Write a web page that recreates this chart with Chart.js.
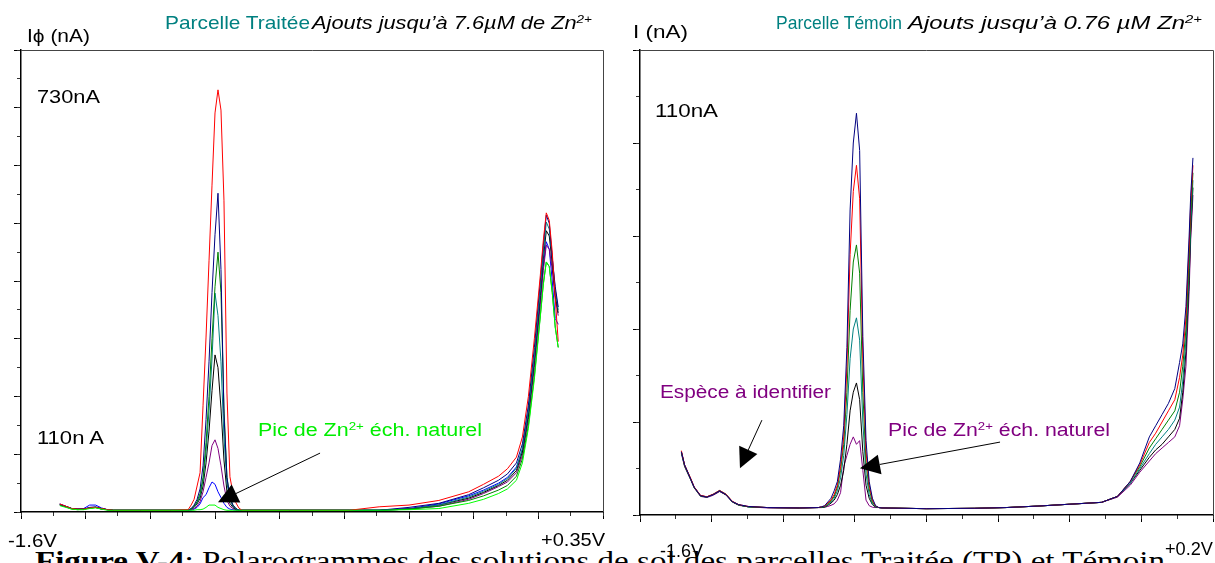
<!DOCTYPE html>
<html>
<head>
<meta charset="utf-8">
<title>Polarogrammes parcelles Traitée et Témoin</title>
<script src="https://cdn.jsdelivr.net/npm/chart.js@4"></script>
<style>
  body { margin:0; width:1215px; height:563px; position:relative; overflow:hidden; background:#fff;
         font-family:"Liberation Sans", Arial, sans-serif; }
  canvas { position:absolute; top:0; }
  #left { left:0; }
  #right { left:612px; }
  .t { position:absolute; white-space:nowrap; line-height:1; transform-origin:0 50%; color:#000; }
  .t sup { font-size:0.62em; vertical-align:0.55em; line-height:0; }
  .teal { color:#008080; }
  .it { font-style:italic; }
  .cap { font-family:"Liberation Serif", "Times New Roman", serif; }
</style>
</head>
<body>
<div class="t cap" style="left:35px; top:547px; font-size:28px;" data-w="1130"><b>Figure V-4</b>: Polarogrammes des solutions de sol des parcelles Traitée (TP) et Témoin</div>

<canvas id="left" width="612" height="563"></canvas>
<canvas id="right" width="603" height="563"></canvas>

<!-- left panel texts -->
<div class="t" style="left:27px; top:27px; font-size:18px;" data-w="63">Iϕ (nA)</div>
<div class="t teal" style="left:165px; top:13px; font-size:19px;" data-w="145">Parcelle Traitée</div>
<div class="t it" style="left:312px; top:13px; font-size:19px;" data-w="280">Ajouts jusqu’à 7.6µM de Zn<sup>2+</sup></div>
<div class="t" style="left:37px; top:88px; font-size:18px;" data-w="63">730nA</div>
<div class="t" style="left:37px; top:429px; font-size:18px;" data-w="67">110n A</div>
<div class="t" style="left:258px; top:421px; font-size:18px; color:#00ee00;" data-w="224">Pic de Zn<sup>2+</sup> éch.  naturel</div>
<div class="t" style="left:8px; top:532px; font-size:18px;" data-w="49">-1.6V</div>
<div class="t" style="left:541px; top:531px; font-size:18px;" data-w="64">+0.35V</div>

<!-- right panel texts -->
<div class="t" style="left:633px; top:23px; font-size:18px;" data-w="55">I (nA)</div>
<div class="t teal" style="left:776px; top:13px; font-size:19px;" data-w="126">Parcelle Témoin</div>
<div class="t it" style="left:908px; top:13px; font-size:19px;" data-w="294">Ajouts jusqu’à 0.76 µM Zn<sup>2+</sup></div>
<div class="t" style="left:655px; top:102px; font-size:18px;" data-w="63">110nA</div>
<div class="t" style="left:660px; top:383px; font-size:18px; color:#800080;" data-w="171">Espèce à identifier</div>
<div class="t" style="left:888px; top:421px; font-size:18px; color:#800080;" data-w="222">Pic de Zn<sup>2+</sup> éch. naturel</div>
<div class="t" style="left:660px; top:542px; font-size:18px;" data-w="43">-1.6V</div>
<div class="t" style="left:1165px; top:540px; font-size:18px;" data-w="48">+0.2V</div>

<script>
// ---- left panel : parcelle traitée (potential in V, current in nA)
var leftVolts = [-1.47,-1.45,-1.43,-1.41,-1.39,-1.37,-1.35,-1.33,-1.31,-1.29,-1.20,-1.10,
  -1.04,-1.03,-1.02,-1.01,-1.00,-0.99,-0.98,-0.97,-0.96,-0.95,-0.94,-0.93,-0.92,-0.91,-0.90,-0.89,-0.88,-0.87,-0.86,
  -0.70,-0.50,-0.40,-0.30,-0.20,-0.10,-0.05,0.00,0.03,0.06,0.08,0.10,0.12,0.14,0.15,0.16,0.17,0.18,0.19,0.20];

var leftLime = [11,8,5,4,4,6,7,5,3,3,3,3,
  3,3,3,4,4,5,8,12,12,12,8,6,4,3,3,3,3,3,3,
  3,3,3,4,6,15,22,32,40,55,85,145,230,338,393,433,425,380,320,285];
var leftRed = [14,10,6,5,5,7,8,6,4,3,3,3,
  4,12,22,45,68,185,303,435,566,691,731,696,540,206,61,33,16,7,3,
  3,3,9,12,20,35,48,62,75,95,130,200,300,410,470,518,505,450,370,295];
var leftNavy = [13,9,6,5,5,8,9,6,4,3,3,3,
  3,6,12,22,40,80,160,260,380,480,552,420,170,60,25,12,6,3,3,
  3,3,3,8,15,30,42,55,66,85,118,185,285,400,462,514,500,440,390,355];
var leftGreen = [12,9,5,4,5,7,8,5,4,3,3,3,
  3,5,10,18,32,60,120,200,300,390,450,380,180,60,25,12,6,3,3,
  3,3,3,5,10,20,28,38,46,62,92,150,235,340,395,433,425,380,320,285];
var leftTeal = [13,9,6,5,5,7,8,5,4,3,3,3,
  3,5,9,16,28,55,105,175,265,379,340,260,130,50,22,10,5,3,3,
  3,3,3,5,12,26,36,48,58,76,110,175,270,385,448,502,490,440,385,350];
var leftBlack = [13,10,6,5,5,7,8,6,4,3,3,3,
  3,5,8,14,24,45,85,140,210,272,250,180,90,35,15,8,4,3,3,
  3,3,3,5,12,24,34,46,55,72,104,168,262,375,438,487,478,430,375,345];
var leftPurple = [12,9,6,5,5,7,8,5,4,3,3,3,
  3,4,6,10,18,35,60,85,115,125,110,80,45,20,10,6,4,3,3,
  3,3,3,5,10,22,32,44,52,68,98,160,250,360,418,462,455,420,370,340];
var leftBlue = [14,10,6,5,6,12,12,7,4,3,3,3,
  3,3,5,8,14,25,30,42,52,48,35,25,15,8,5,4,3,3,3,
  3,3,3,6,14,28,38,50,60,78,108,170,260,365,425,468,455,400,335,325];

// ---- right panel : parcelle témoin
var rightVolts = [-1.47,-1.46,-1.44,-1.43,-1.41,-1.39,-1.37,-1.35,-1.33,-1.31,-1.29,-1.26,-1.20,-1.10,
  -1.04,-1.03,-1.02,-1.01,-1.00,-0.99,-0.98,-0.97,-0.96,-0.95,-0.94,-0.93,-0.92,-0.91,-0.90,-0.89,-0.88,-0.87,-0.86,-0.85,
  -0.84,-0.70,-0.55,-0.45,-0.35,-0.25,-0.15,-0.10,-0.06,-0.03,0.00,0.02,0.04,0.06,0.08,0.095,0.105,0.115,0.125,0.13,0.137];

var rightNavy = [17,13.5,9.5,7.5,5.2,4.8,5.5,6.5,5.5,3.6,2.8,2.3,2,1.9,
  2,2.2,2.5,3.5,4.5,6.5,9,15,24,45,82,100,108,98,48,20,9,4.5,2.5,2,
  1.9,1.7,1.8,2.0,2.4,2.9,3.4,5,9,14,21,24,27,30,34,41,46,56,75,86,96];
var rightRed = [17.3,13.5,9.7,7.6,5.3,4.9,5.6,6.6,5.6,3.7,2.8,2.3,2,1.9,
  2,2.2,2.4,3.2,4,5.5,8,13,21,40,70,87,94,85,42,17,8,4,2.4,2,
  1.9,1.7,1.8,2.0,2.4,2.9,3.4,5,9,13.5,19.5,22,25,28,31,37,43,53,72,84,94];
var rightGreen = [16.8,13.2,9.4,7.4,5.1,4.8,5.6,6.6,5.6,3.6,2.7,2.2,2,1.9,
  2,2.1,2.3,3,3.8,5,7.5,12,19,33,55,68,72.6,65,33,14,7,3.5,2.3,2,
  1.9,1.7,1.8,2.0,2.4,2.9,3.4,5,9,13,18,20.5,23,25.5,28,33,40,50,69,81,92];
var rightTeal = [16.9,13.3,9.5,7.5,5.2,4.8,5.5,6.5,5.5,3.6,2.7,2.2,2,1.9,
  2,2.1,2.2,2.8,3.5,4.5,6.5,10,16,27,42,50,53,47,25,11,5.5,3,2.2,2,
  1.9,1.7,1.8,2.0,2.4,2.9,3.4,5,8.5,12.5,16.5,19,21,23,25.5,29,36,47,66,78,90];
var rightBlack = [17,13.4,9.6,7.5,5.2,4.9,5.5,6.4,5.4,3.5,2.7,2.2,2,1.9,
  2,2,2.1,2.6,3.2,4,5.5,8,12,19,28,33,35.5,31,17,8,4.5,2.8,2.1,2,
  1.9,1.7,1.8,2.0,2.4,2.9,3.4,5,8.5,12,15.5,17.5,19,21,23,26,33,44,63,76,88];
var rightPurple = [16.5,13,9.3,7.3,5,4.7,5.3,6.3,5.4,3.5,2.6,2.2,1.9,1.8,
  2,2,2.1,2.3,2.6,3,4,6,13,16,19,21,19,20,12,4,2.5,2.1,2,2,
  1.9,1.7,1.8,2.0,2.4,2.9,3.4,4.8,8,11.5,14.5,16.5,18,19.5,21,24,31,40,60,74,86];

// arrows (data coordinates: V, nA)
var leftArrows = [{ from: [-0.598, 102], to: [-0.94, 17] }];
var rightArrows = [
  { from: [-1.217, 25.5], to: [-1.286, 12.6] },
  { from: [-0.469, 19.6], to: [-0.909, 12.6] }
];

function pts(volts, vals) {
  return volts.map(function (v, i) { return { x: v, y: vals[i] }; });
}

function spread(min, max, n) {
  var out = [];
  for (var i = 0; i <= n; i++) out.push({ value: min + (max - min) * i / n });
  return out;
}

// frame (top + right edge) and annotation arrows
var framePlugin = {
  id: 'frame',
  afterDatasetsDraw: function (chart, args, opts) {
    var ctx = chart.ctx, a = chart.chartArea;
    var xs = chart.scales.x, ys = chart.scales.y;
    ctx.save();
    ctx.strokeStyle = '#444';
    ctx.lineWidth = 1;
    ctx.beginPath();
    ctx.moveTo(a.left, a.top + 0.5);
    ctx.lineTo(a.right + 0.5, a.top + 0.5);
    ctx.lineTo(a.right + 0.5, a.bottom);
    ctx.stroke();

    (opts.arrows || []).forEach(function (ar) {
      var x1 = xs.getPixelForValue(ar.from[0]), y1 = ys.getPixelForValue(ar.from[1]);
      var x2 = xs.getPixelForValue(ar.to[0]), y2 = ys.getPixelForValue(ar.to[1]);
      var ang = Math.atan2(y2 - y1, x2 - x1);
      var L = 20, W = 10;
      var bx = x2 - L * Math.cos(ang), by = y2 - L * Math.sin(ang);
      ctx.strokeStyle = '#000';
      ctx.beginPath(); ctx.moveTo(x1, y1); ctx.lineTo(bx, by); ctx.stroke();
      ctx.fillStyle = '#000';
      ctx.beginPath();
      ctx.moveTo(x2, y2);
      ctx.lineTo(bx - W * Math.sin(ang), by + W * Math.cos(ang));
      ctx.lineTo(bx + W * Math.sin(ang), by - W * Math.cos(ang));
      ctx.closePath();
      ctx.fill();
    });
    ctx.restore();
  }
};

function makeChart(id, volts, series, xr, yr, box, arrows) {
  var datasets = series.map(function (s) {
    return {
      data: pts(volts, s.vals),
      borderColor: s.color,
      borderWidth: 1,
      pointRadius: 0,
      tension: 0,
      fill: false
    };
  });
  return new Chart(document.getElementById(id), {
    type: 'line',
    data: { datasets: datasets },
    plugins: [framePlugin],
    options: {
      responsive: false,
      animation: false,
      events: [],
      layout: { padding: { top: box.top, right: box.right, left: 0, bottom: 0 } },
      plugins: { legend: { display: false }, tooltip: { enabled: false }, frame: { arrows: arrows } },
      scales: {
        x: {
          type: 'linear', position: 'bottom', min: xr[0], max: xr[1], weight: 1,
          ticks: { display: false },
          grid: { drawOnChartArea: false, tickLength: 7, color: '#000' },
          border: { color: '#000', width: 1.5 },
          afterBuildTicks: function (s) { s.ticks = spread(xr[0], xr[1], xr[2]); },
          afterFit: function (s) { s.height = box.bottom; }
        },
        xm: {
          type: 'linear', position: 'bottom', min: xr[0], max: xr[1], weight: 0,
          ticks: { display: false },
          grid: { drawOnChartArea: false, tickLength: 4, color: '#333' },
          border: { display: false },
          afterBuildTicks: function (s) { s.ticks = spread(xr[0], xr[1], xr[2] * 2); },
          afterFit: function (s) { s.height = 0; }
        },
        y: {
          type: 'linear', position: 'left', min: yr[0], max: yr[1], weight: 1,
          ticks: { display: false },
          grid: { drawOnChartArea: false, tickLength: 7, color: '#000' },
          border: { color: '#000', width: 1.5 },
          afterBuildTicks: function (s) { s.ticks = spread(yr[0], yr[1], yr[2]); },
          afterFit: function (s) { s.width = box.left; }
        },
        ym: {
          type: 'linear', position: 'left', min: yr[0], max: yr[1], weight: 0,
          ticks: { display: false },
          grid: { drawOnChartArea: false, tickLength: 4, color: '#333' },
          border: { display: false },
          afterBuildTicks: function (s) { s.ticks = spread(yr[0], yr[1], yr[2] * 2); },
          afterFit: function (s) { s.width = 0; }
        }
      }
    }
  });
}

makeChart('left', leftVolts, [
  { vals: leftLime, color: '#00ff00' },
  { vals: leftRed, color: '#ff0000' },
  { vals: leftNavy, color: '#000080' },
  { vals: leftGreen, color: '#008000' },
  { vals: leftTeal, color: '#008080' },
  { vals: leftBlack, color: '#000000' },
  { vals: leftPurple, color: '#800080' },
  { vals: leftBlue, color: '#0000ff' }
], [-1.6, 0.35, 9], [0, 800, 8], { left: 21, top: 50, right: 9, bottom: 51 }, leftArrows);

makeChart('right', rightVolts, [
  { vals: rightNavy, color: '#000080' },
  { vals: rightRed, color: '#ff0000' },
  { vals: rightGreen, color: '#008000' },
  { vals: rightTeal, color: '#008080' },
  { vals: rightBlack, color: '#000000' },
  { vals: rightPurple, color: '#800080' }
], [-1.6, 0.2, 8], [0, 125, 5], { left: 28, top: 50, right: 2, bottom: 48 }, rightArrows);

// stretch each label to the width it has in the figure
document.querySelectorAll('.t[data-w]').forEach(function (el) {
  var w = el.getBoundingClientRect().width;
  el.style.transform = 'scaleX(' + (parseFloat(el.dataset.w) / w) + ')';
});
</script>
</body>
</html>
